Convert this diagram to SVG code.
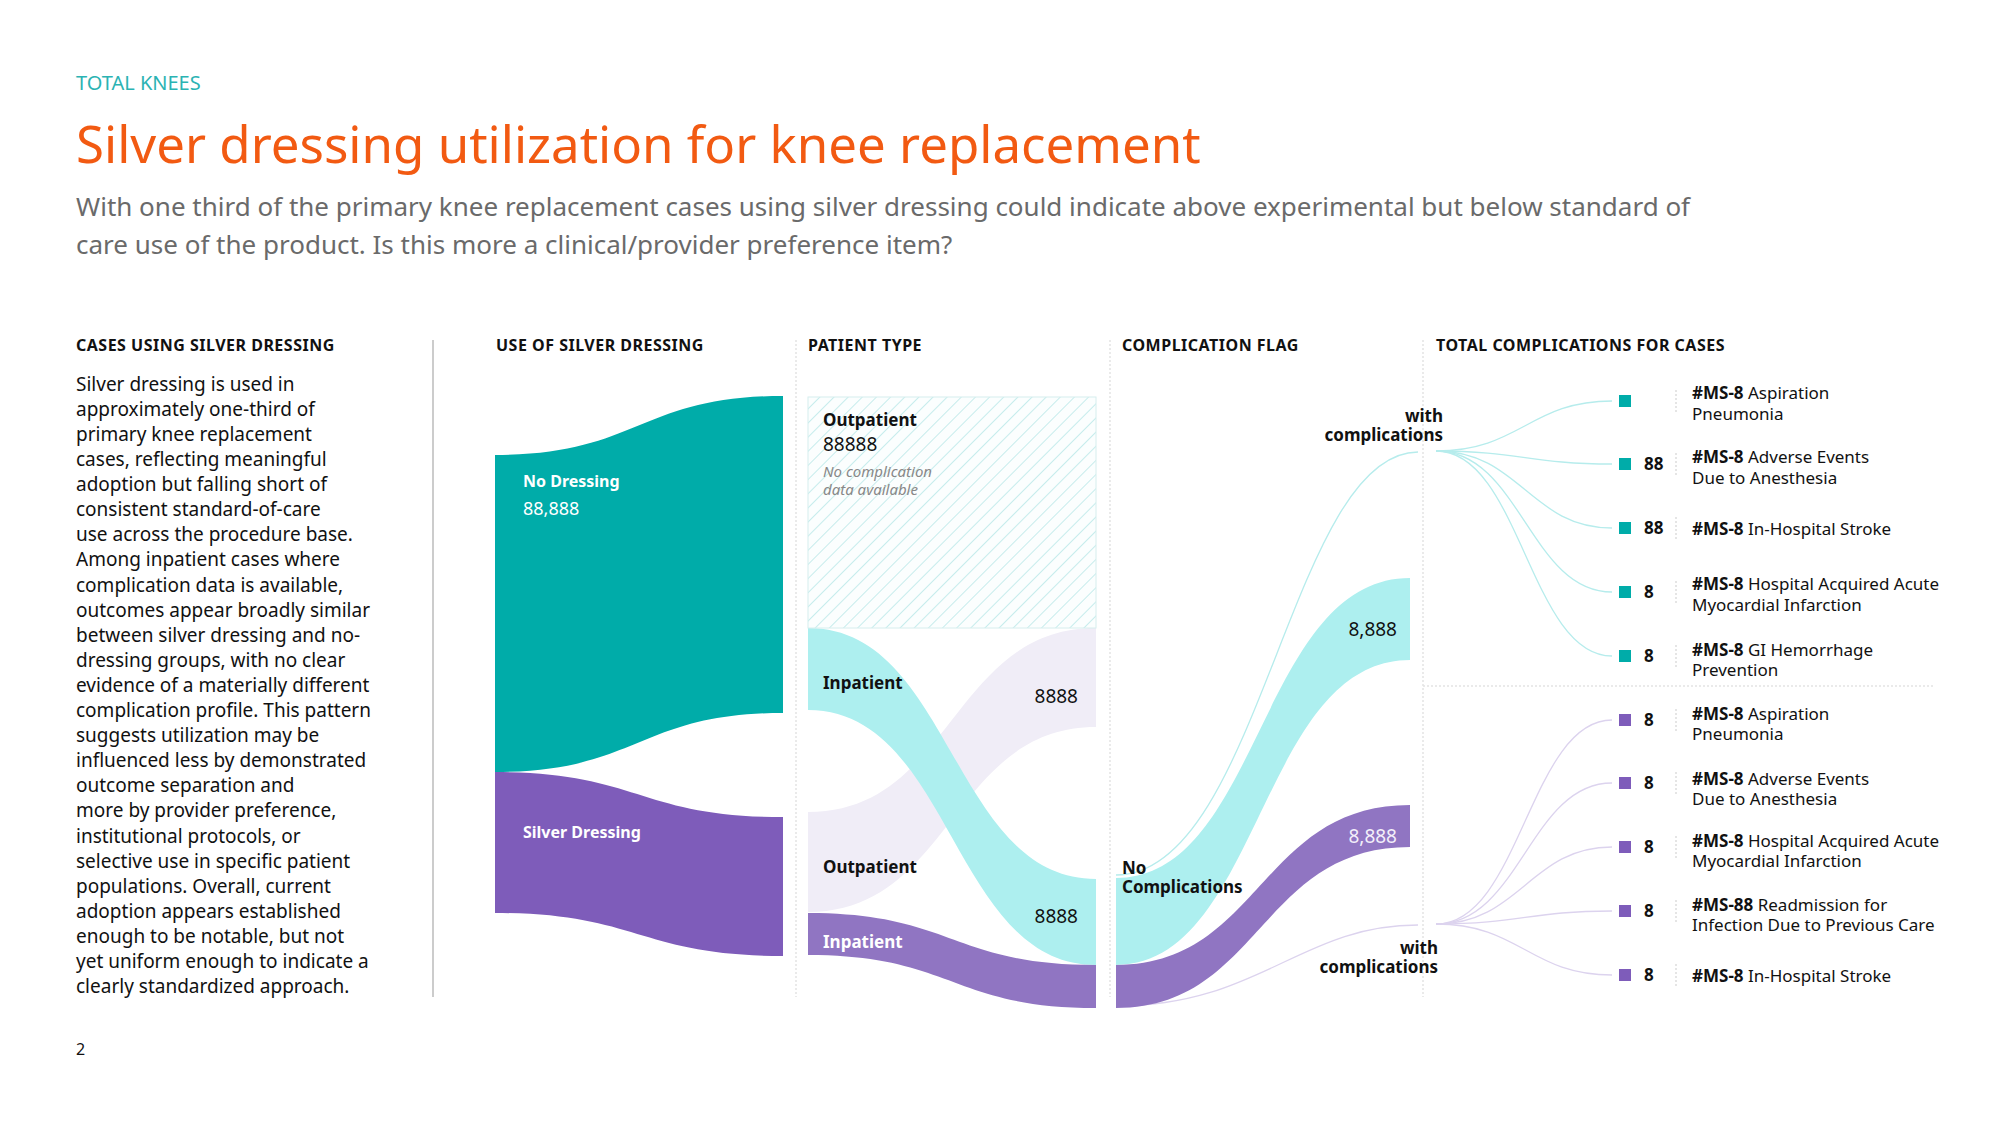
<svg xmlns="http://www.w3.org/2000/svg" width="2000" height="1125" viewBox="0 0 2000 1125">
<defs>
<pattern id="hatch" width="10" height="10" patternUnits="userSpaceOnUse" patternTransform="rotate(45)">
<rect width="10" height="10" fill="#fbfefe"/><line x1="0" y1="0" x2="0" y2="10" stroke="#c6ecec" stroke-width="2"/>
</pattern>
<style>
text{font-family:"Noto Sans","Open Sans",sans-serif;}
.hd{font-size:16px;font-weight:700;fill:#111;letter-spacing:0.5px}
.body{font-size:19px;fill:#111}
.lbl{font-size:17px;font-weight:700;fill:#111}
.num{font-size:19px;fill:#111}
.it{font-size:15px;font-style:italic;fill:#888}
.sep{stroke:#e4e4e4;stroke-width:1.5;stroke-dasharray:2 2}
.ct{font-size:17px;fill:#111}
.cn{font-size:17px;font-weight:700;fill:#111}
.fanT{fill:none;stroke:#b6ecec;stroke-width:1.3}
.fanP{fill:none;stroke:#dcd3ee;stroke-width:1.3}
.tick{stroke:#ddd;stroke-width:1.5;stroke-dasharray:2 2}
</style>
</defs>
<rect width="2000" height="1125" fill="#fff"/>
<g id="header">
<text x="76" y="90" style="font-size:20px;fill:#2bb3b3">TOTAL KNEES</text>
<text x="76" y="163" style="font-size:51px;fill:#f25a12">Silver dressing utilization for knee replacement</text>
<text x="76" y="216" style="font-size:26px;fill:#6a6a6a">With one third of the primary knee replacement cases using silver dressing could indicate above experimental but below standard of</text>
<text x="76" y="254" style="font-size:26px;fill:#6a6a6a">care use of the product. Is this more a clinical/provider preference item?</text>
</g>
<g id="column-headers">
<text class="hd" x="76" y="351">CASES USING SILVER DRESSING</text>
<text class="hd" x="496" y="351">USE OF SILVER DRESSING</text>
<text class="hd" x="808" y="351">PATIENT TYPE</text>
<text class="hd" x="1122" y="351">COMPLICATION FLAG</text>
<text class="hd" x="1436" y="351">TOTAL COMPLICATIONS FOR CASES</text>
</g>
<g id="separators">
<line x1="433" y1="340" x2="433" y2="997" stroke="#bbb" stroke-width="1.5"/>
<line class="sep" x1="796" y1="340" x2="796" y2="997"/>
<line class="sep" x1="1110" y1="340" x2="1110" y2="997"/>
<line class="sep" x1="1423" y1="340" x2="1423" y2="997"/>
<line class="sep" x1="1423" y1="686" x2="1935" y2="686"/>
</g>
<g id="description">
<text class="body" x="76" y="391">Silver dressing is used in</text>
<text class="body" x="76" y="416">approximately one-third of</text>
<text class="body" x="76" y="441">primary knee replacement</text>
<text class="body" x="76" y="466">cases, reflecting meaningful</text>
<text class="body" x="76" y="491">adoption but falling short of</text>
<text class="body" x="76" y="516">consistent standard-of-care</text>
<text class="body" x="76" y="541">use across the procedure base.</text>
<text class="body" x="76" y="566">Among inpatient cases where</text>
<text class="body" x="76" y="592">complication data is available,</text>
<text class="body" x="76" y="617">outcomes appear broadly similar</text>
<text class="body" x="76" y="642">between silver dressing and no-</text>
<text class="body" x="76" y="667">dressing groups, with no clear</text>
<text class="body" x="76" y="692">evidence of a materially different</text>
<text class="body" x="76" y="717">complication profile. This pattern</text>
<text class="body" x="76" y="742">suggests utilization may be</text>
<text class="body" x="76" y="767">influenced less by demonstrated</text>
<text class="body" x="76" y="792">outcome separation and</text>
<text class="body" x="76" y="817">more by provider preference,</text>
<text class="body" x="76" y="843">institutional protocols, or</text>
<text class="body" x="76" y="868">selective use in specific patient</text>
<text class="body" x="76" y="893">populations. Overall, current</text>
<text class="body" x="76" y="918">adoption appears established</text>
<text class="body" x="76" y="943">enough to be notable, but not</text>
<text class="body" x="76" y="968">yet uniform enough to indicate a</text>
<text class="body" x="76" y="993">clearly standardized approach.</text>
<text x="76" y="1055" style="font-size:16px;fill:#111">2</text>
</g>
<g id="connectors">
<path d="M808,812 C952,812 952,628 1096,628 L1096,727 C952,727 952,912 808,912 Z" fill="#f0edf7"/>
<path d="M808,628 C952,628 952,879 1096,879 L1096,965 C952,965 952,710 808,710 Z" fill="#adefef"/>
<path d="M808,913 C952,913 952,965 1096,965 L1096,1008 C952,1008 952,955 808,955 Z" fill="#9075c2"/>
<path d="M1116,875 C1260,875 1290,452 1418,452" fill="none" stroke="#b6ecec" stroke-width="1.3"/>
<path d="M1116,1006 C1260,1006 1300,925 1418,925" fill="none" stroke="#dcd3ee" stroke-width="1.3"/>
<path d="M1116,878 C1260,878 1260,578 1410,578 L1410,660 C1260,660 1260,965 1116,965 Z" fill="#adefef"/>
<path d="M1116,965 C1260,965 1260,805 1410,805 L1410,847 C1260,847 1260,1008 1116,1008 Z" fill="#9075c2"/>
<path class="fanT" d="M1436,451 C1520,451 1530,401 1612,401"/>
<path class="fanT" d="M1436,451 C1520,451 1530,464 1612,464"/>
<path class="fanT" d="M1436,451 C1520,451 1530,528 1612,528"/>
<path class="fanT" d="M1436,451 C1520,451 1530,592 1612,592"/>
<path class="fanT" d="M1436,451 C1520,451 1530,656 1612,656"/>
<path class="fanP" d="M1436,924 C1520,924 1530,720 1612,720"/>
<path class="fanP" d="M1436,924 C1520,924 1530,783 1612,783"/>
<path class="fanP" d="M1436,924 C1520,924 1530,847 1612,847"/>
<path class="fanP" d="M1436,924 C1520,924 1530,911 1612,911"/>
<path class="fanP" d="M1436,924 C1520,924 1530,975 1612,975"/>
</g>
<g id="node-no-dressing">
<path d="M495,455 C639,455 639,396 783,396 L783,713 C639,713 639,772 495,772 Z" fill="#00aca9"/>
<text x="523" y="487" style="font-size:16px;font-weight:700;fill:#fff">No Dressing</text>
<text x="523" y="515" style="font-size:18px;fill:#fff">88,888</text>
</g>
<g id="node-silver-dressing">
<path d="M495,772 C639,772 639,817 783,817 L783,956 C639,956 639,913 495,913 Z" fill="#7e5cba"/>
<text x="523" y="838" style="font-size:16px;font-weight:700;fill:#fff">Silver Dressing</text>
</g>
<g id="node-outpatient-nodata">
<rect x="808" y="397" width="288" height="231" fill="url(#hatch)" stroke="#d6eeee" stroke-width="1"/>
<text class="lbl" x="823" y="426">Outpatient</text>
<text class="num" x="823" y="451">88888</text>
<text class="it" x="823" y="477">No complication</text>
<text class="it" x="823" y="495">data available</text>
</g>
<g id="node-inpatient-no">
<text class="lbl" x="823" y="689">Inpatient</text>
<text class="num" x="1078" y="703" text-anchor="end">8888</text>
</g>
<g id="node-outpatient-silver">
<text class="lbl" x="823" y="873">Outpatient</text>
<text class="num" x="1078" y="923" text-anchor="end">8888</text>
</g>
<g id="node-inpatient-silver">
<text x="823" y="948" style="font-size:17px;font-weight:700;fill:#fff">Inpatient</text>
</g>
<g id="node-no-complications">
<text class="lbl" x="1122" y="874">No</text>
<text class="lbl" x="1122" y="893">Complications</text>
<text class="num" x="1397" y="636" text-anchor="end">8,888</text>
<text x="1397" y="843" text-anchor="end" style="font-size:19px;fill:#f3effa">8,888</text>
</g>
<g id="node-with-comp-top">
<text class="lbl" x="1443" y="422" text-anchor="end">with</text>
<text class="lbl" x="1443" y="441" text-anchor="end">complications</text>
</g>
<g id="node-with-comp-bottom">
<text class="lbl" x="1438" y="954" text-anchor="end">with</text>
<text class="lbl" x="1438" y="973" text-anchor="end">complications</text>
</g>
<g id="complications-teal" fill="#00aca9">
<rect x="1619" y="395" width="12" height="12"/>
<line class="tick" x1="1676" y1="390" x2="1676" y2="412"/>
<text class="ct" x="1692" y="399"><tspan class="cn">#MS-8</tspan> Aspiration</text>
<text class="ct" x="1692" y="420">Pneumonia</text>
<rect x="1619" y="458" width="12" height="12"/>
<text class="cn" x="1644" y="470">88</text>
<line class="tick" x1="1676" y1="453" x2="1676" y2="475"/>
<text class="ct" x="1692" y="463"><tspan class="cn">#MS-8</tspan> Adverse Events</text>
<text class="ct" x="1692" y="484">Due to Anesthesia</text>
<rect x="1619" y="522" width="12" height="12"/>
<text class="cn" x="1644" y="534">88</text>
<line class="tick" x1="1676" y1="517" x2="1676" y2="539"/>
<text class="ct" x="1692" y="535"><tspan class="cn">#MS-8</tspan> In-Hospital Stroke</text>
<rect x="1619" y="586" width="12" height="12"/>
<text class="cn" x="1644" y="598">8</text>
<line class="tick" x1="1676" y1="581" x2="1676" y2="603"/>
<text class="ct" x="1692" y="590"><tspan class="cn">#MS-8</tspan> Hospital Acquired Acute</text>
<text class="ct" x="1692" y="611">Myocardial Infarction</text>
<rect x="1619" y="650" width="12" height="12"/>
<text class="cn" x="1644" y="662">8</text>
<line class="tick" x1="1676" y1="645" x2="1676" y2="667"/>
<text class="ct" x="1692" y="656"><tspan class="cn">#MS-8</tspan> GI Hemorrhage</text>
<text class="ct" x="1692" y="676">Prevention</text>
</g>
<g id="complications-purple" fill="#7e5cba">
<rect x="1619" y="714" width="12" height="12"/>
<text class="cn" x="1644" y="726">8</text>
<line class="tick" x1="1676" y1="709" x2="1676" y2="731"/>
<text class="ct" x="1692" y="720"><tspan class="cn">#MS-8</tspan> Aspiration</text>
<text class="ct" x="1692" y="740">Pneumonia</text>
<rect x="1619" y="777" width="12" height="12"/>
<text class="cn" x="1644" y="789">8</text>
<line class="tick" x1="1676" y1="772" x2="1676" y2="794"/>
<text class="ct" x="1692" y="785"><tspan class="cn">#MS-8</tspan> Adverse Events</text>
<text class="ct" x="1692" y="805">Due to Anesthesia</text>
<rect x="1619" y="841" width="12" height="12"/>
<text class="cn" x="1644" y="853">8</text>
<line class="tick" x1="1676" y1="836" x2="1676" y2="858"/>
<text class="ct" x="1692" y="847"><tspan class="cn">#MS-8</tspan> Hospital Acquired Acute</text>
<text class="ct" x="1692" y="867">Myocardial Infarction</text>
<rect x="1619" y="905" width="12" height="12"/>
<text class="cn" x="1644" y="917">8</text>
<line class="tick" x1="1676" y1="900" x2="1676" y2="922"/>
<text class="ct" x="1692" y="911"><tspan class="cn">#MS-88</tspan> Readmission for</text>
<text class="ct" x="1692" y="931">Infection Due to Previous Care</text>
<rect x="1619" y="969" width="12" height="12"/>
<text class="cn" x="1644" y="981">8</text>
<line class="tick" x1="1676" y1="964" x2="1676" y2="986"/>
<text class="ct" x="1692" y="982"><tspan class="cn">#MS-8</tspan> In-Hospital Stroke</text>
</g>
</svg>
